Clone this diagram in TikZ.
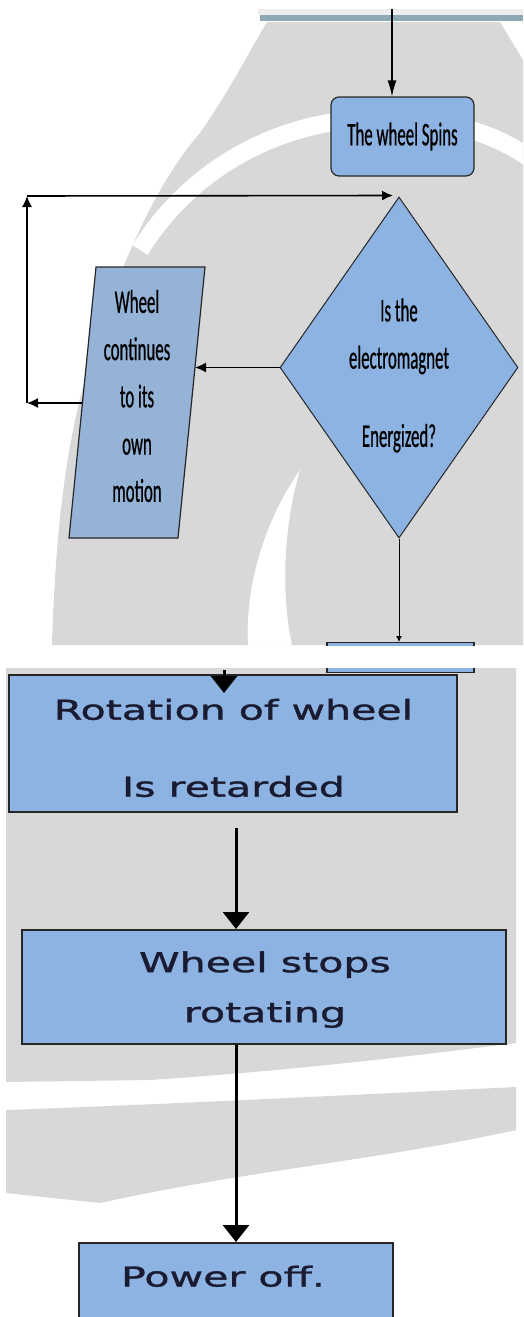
\documentclass[tikz,border=0pt]{standalone}
\usepackage{fontspec}
\usetikzlibrary{shapes.geometric,arrows.meta,calc}
\newfontfamily\topfont[FakeStretch=0.51,FakeBold=0.6]{Carlito}
\newfontfamily\botfont[FakeStretch=1.5,FakeBold=1.3]{DejaVu Sans}
\definecolor{boxblue}{HTML}{8DB3E2}
\definecolor{parblue}{HTML}{95B3D7}
\definecolor{wmgray}{HTML}{D8D8D8}
\definecolor{tealbar}{HTML}{8DA9B4}
\definecolor{txtdark}{HTML}{1A1A30}
\tikzset{
  topbox/.style={draw=black!85, line width=1.2pt, fill=boxblue, rounded corners=8pt,
    minimum width=143pt, minimum height=79pt, inner sep=0pt,
    font=\topfont\fontsize{33}{40}\selectfont},
  diam/.style={diamond, draw=black!85, line width=1pt, fill=boxblue,
    minimum width=238pt, minimum height=341pt, inner sep=0pt},
  toptxt/.style={align=center, inner sep=0pt, font=\topfont\fontsize{33}{47.25}\selectfont},
  botbox/.style={draw=black!85, line width=2pt, fill=boxblue, inner sep=0pt},
  bottxt/.style={align=center, inner sep=0pt, text=txtdark},
  toparr/.style={line width=1.2pt, -{Latex[length=16pt,width=9pt]}},
  fbarr/.style={line width=1.6pt, -{Latex[length=11pt,width=10pt]}},
  botarr/.style={line width=3pt, -{Triangle[length=17pt,width=26pt]}},
}
\begin{document}
\begin{tikzpicture}[x=1pt,y=-1pt]
\useasboundingbox (0,0) rectangle (523,1317);
\clip (0,0) rectangle (523,1317);
% ---------- watermark (top page) ----------
\fill[wmgray] (267,22) -- (500,22) -- (523,60) -- (523,645) -- (52,645)
  .. controls (55,540) and (65,450) .. (85,380)
  .. controls (110,290) and (150,190) .. (200,133)
  .. controls (230,90) and (250,50) .. (267,22) -- cycle;
\draw[white, line width=18pt] (140,250) .. controls (190,170) and (270,128) .. (350,120)
  .. controls (430,114) and (490,128) .. (535,162);
\fill[white] (300,470) .. controls (262,525) and (245,590) .. (248,645)
  -- (292,645) .. controls (282,600) and (282,530) .. (300,470) -- cycle;
% ---------- watermark (bottom page) ----------
\fill[wmgray] (6,668) -- (516,668) -- (516,1043)
  .. controls (420,1055) and (300,1070) .. (150,1080) -- (6,1082) -- cycle;
\fill[wmgray] (6,1110) .. controls (150,1105) and (350,1095) .. (516,1087)
  -- (516,1130) .. controls (380,1160) and (250,1170) .. (100,1203) -- (6,1193) -- cycle;
% ---------- page top bar ----------
\fill[black!7] (258,9) rectangle (523,15);
\fill[tealbar] (260,15) rectangle (523,21);
% ---------- top page nodes ----------
\node[topbox] (spin) at (402.5,136.5) {The wheel Spins};
\node[diam] (dec) at (399,367.5) {};
\node[toptxt] (dectxt) at (399,375.5) {Is the\\electromagnet\\[31pt]Energized?};
\filldraw[fill=parblue, draw=black!85, line width=1.2pt] (96,267) -- (205,267) -- (178,538) -- (69,538) -- cycle;
\node[toptxt] (partxt) at (137,396) {Wheel\\continues\\to its\\own\\motion};
\node[draw=black!85, line width=1.2pt, fill=boxblue, minimum width=147pt, minimum height=30pt,
  inner sep=0pt, anchor=north] (cut) at (400.5,642) {};
% ---------- coordinates ----------
\coordinate (topin) at (392,9);
\coordinate (parR) at (195,367.5);
\coordinate (parL) at (82,403);
\coordinate (loopL) at (27,403);
\coordinate (loopT) at (27,196);
% ---------- top page connectors ----------
\draw[toparr] (topin) -- (topin |- spin.north);
\draw[fbarr] (dec.west) -- (parR);
\draw[fbarr] (parL) -- (loopL);
\draw[fbarr] (loopL) -- (loopT);
\draw[fbarr] (loopT) -- ($(dec.north)+(-6,-1)$);
\draw[line width=1pt, -{Latex[length=6pt,width=6pt]}] (dec.south) -- (dec.south |- cut.north);
% ---------- page gap ----------
\fill[white] (0,646) rectangle (523,668);
% ---------- bottom page nodes ----------
\node[botbox, minimum width=448pt, minimum height=137pt] (rot) at (233,743.5) {};
\node[bottxt, font=\botfont\fontsize{27.4}{77}\selectfont] (rottxt) at (233.5,748) {Rotation of wheel\\Is retarded};
\node[botbox, minimum width=484pt, minimum height=114pt] (stop) at (264,987) {};
\node[bottxt, font=\botfont\fontsize{27.4}{50}\selectfont] (stoptxt) at (265,989.6) {Wheel stops\\rotating};
\node[botbox, minimum width=314pt, minimum height=120pt, anchor=north] (pow) at (236,1242) {};
\node[bottxt, font=\botfont\fontsize{27.4}{40}\selectfont] (powtxt) at (223,1276.3) {Power off.};
% ---------- bottom connectors ----------
\coordinate (gapstart) at (224,670);
\coordinate (rotin) at (224,693);
\coordinate (rotout) at (236,828);
\draw[botarr] (gapstart) -- (rotin);
\draw[botarr] (rotout) -- (rotout |- stop.north);
\draw[botarr] (stop.south -| pow.north) -- (pow.north);
\end{tikzpicture}
\end{document}
